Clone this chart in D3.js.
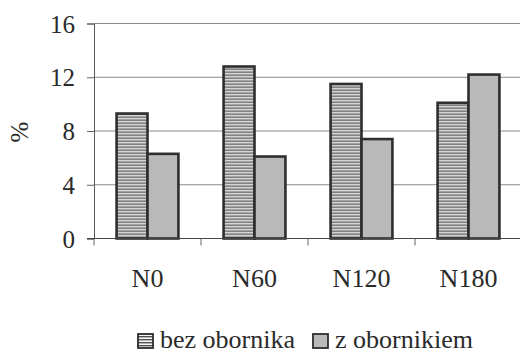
<!DOCTYPE html>
<html>
<head>
<meta charset="utf-8">
<script src="https://cdn.jsdelivr.net/npm/d3@7"></script>
</head>
<body style="margin:0; background:#fff">
<script>
// dane
const categories = ["N0", "N60", "N120", "N180"];
const seriesNames = ["bez obornika", "z obornikiem"];
const bezObornika = [9.3, 12.8, 11.5, 10.1];
const zObornikiem = [6.3, 6.1, 7.4, 12.2];
const yTicks = [0, 4, 8, 12, 16];

const FONT = '"Liberation Serif", Tinos, "Times New Roman", serif';
const svgSize = {width: 520, height: 353};
const margin = {top: 23.5, right: -2, bottom: 114.5, left: 94};
const width = svgSize.width - margin.left - margin.right,
      height = svgSize.height - margin.top - margin.bottom;

const svg = d3.select("body").append("svg")
    .attr("width", svgSize.width)
    .attr("height", svgSize.height);

// wzory wypełnienia
const defs = svg.append("defs");
const stripes = defs.append("pattern")
    .attr("id", "stripes")
    .attr("patternUnits", "userSpaceOnUse")
    .attr("width", 6).attr("height", 3);
stripes.append("rect").attr("width", 6).attr("height", 3).attr("fill", "#f6f6f6");
stripes.append("rect").attr("y", 0).attr("width", 6).attr("height", 1.4).attr("fill", "#505050");

const g = svg.append("g").attr("transform", `translate(${margin.left},${margin.top})`);

const data = categories.map((c, i) => ({cat: c, values: [bezObornika[i], zObornikiem[i]]}));

const x0 = d3.scaleBand().domain(categories).range([0, width]).padding(0);
const x1 = d3.scaleBand().domain(seriesNames).range([0, x0.bandwidth()])
    .paddingInner(0).paddingOuter(0.73);
const y = d3.scaleLinear().domain([0, 16]).range([height, 0]);

// linie siatki
g.selectAll(".grid").data(yTicks.slice(1)).enter().append("line")
    .attr("x1", 0).attr("x2", width)
    .attr("y1", d => y(d)).attr("y2", d => y(d))
    .attr("stroke", "#8a8a8a").attr("stroke-width", 1);

// oś Y
const yAxis = g.append("g")
    .call(d3.axisLeft(y).tickValues(yTicks).tickSize(7).tickPadding(12));
yAxis.select(".domain").attr("stroke", "#555");
yAxis.selectAll(".tick line").attr("stroke", "#666");
yAxis.selectAll(".tick text")
    .style("font-family", FONT).style("font-size", "25px")
    .attr("fill", "#2a2a2a").attr("dy", "0.34em");

// słupki
const fills = ["url(#stripes)", "#b9b9b9"];
const grp = g.selectAll(".grp").data(data).enter().append("g")
    .attr("transform", d => `translate(${x0(d.cat)},0)`);
grp.selectAll("rect").data(d => d.values.map((v, i) => ({s: seriesNames[i], v: v, i: i})))
    .enter().append("rect")
    .attr("x", d => x1(d.s))
    .attr("y", d => y(d.v))
    .attr("width", x1.bandwidth())
    .attr("height", d => y(0) - y(d.v))
    .attr("fill", d => fills[d.i])
    .attr("stroke", "#2e2e2e")
    .attr("stroke-width", 2.6);

// oś X
const xAxis = g.append("g")
    .attr("transform", `translate(0,${height})`);
xAxis.append("line").attr("x1", -7).attr("x2", width).attr("stroke", "#444").attr("stroke-width", 1.2);
xAxis.selectAll(".xt").data(categories).enter().append("line")
    .attr("x1", d => x0(d)).attr("x2", d => x0(d))
    .attr("y1", 0).attr("y2", 7).attr("stroke", "#666");
xAxis.selectAll(".xl").data(categories).enter().append("text")
    .attr("x", d => x0(d) + x0.bandwidth() / 2)
    .attr("y", 48)
    .attr("text-anchor", "middle")
    .attr("fill", "#2a2a2a")
    .style("font-family", FONT).style("font-size", "26px")
    .text(d => d);

// etykieta osi Y
svg.append("text")
    .attr("transform", "translate(28,132) rotate(-90)")
    .attr("text-anchor", "middle")
    .attr("fill", "#2a2a2a")
    .style("font-family", FONT).style("font-size", "25px")
    .text("%");

// legenda
const legend = svg.append("g");
const legX = [137, 312];
seriesNames.forEach((s, i) => {
    legend.append("rect")
        .attr("x", legX[i] + 1).attr("y", 334)
        .attr("width", 15).attr("height", 14)
        .attr("fill", fills[i]).attr("stroke", "#2e2e2e").attr("stroke-width", 1.8);
    legend.append("text")
        .attr("x", legX[i] + 23).attr("y", 348)
        .attr("fill", "#2a2a2a")
        .style("font-family", FONT).style("font-size", "26px")
        .text(s);
});
</script>
</body>
</html>
